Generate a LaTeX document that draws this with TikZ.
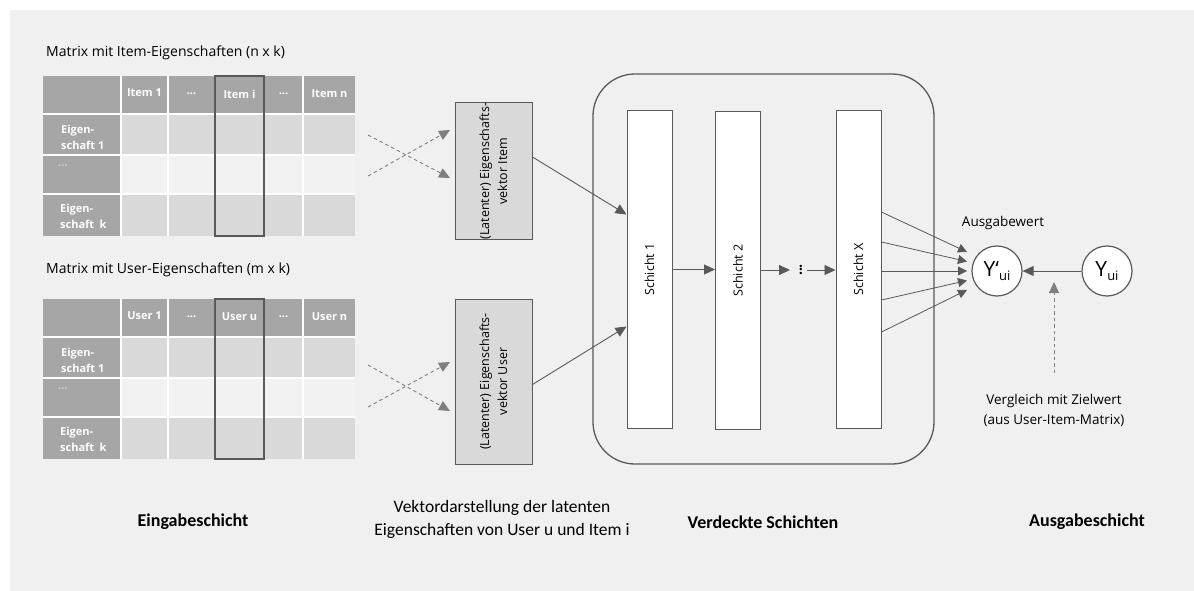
\documentclass[tikz,border=0pt]{standalone}
\usepackage{fontspec}
\setmainfont{Open Sans}
\newfontfamily\calibfont{Carlito}
\usetikzlibrary{arrows.meta,calc}

\definecolor{panel}{HTML}{F0F0F0}
\definecolor{hdr}{HTML}{A6A6A6}
\definecolor{cellA}{HTML}{D9D9D9}
\definecolor{cellB}{HTML}{F2F2F2}
\definecolor{ink}{HTML}{595959}
\definecolor{dashc}{HTML}{7F7F7F}
\definecolor{dimdots}{HTML}{D0D0D0}

% one feature matrix: header row, label column, three data rows
\newcommand\featuretable[4]{%
  \fill[white] (43,76) rectangle (355,236);
  \foreach \a/\b in {43/120,122/167,169/214,216/263,265/302,304/355}
    \fill[hdr] (\a,76) rectangle (\b,113);
  \foreach \a/\b in {115/154,156/193,195/236}
    \fill[hdr] (43,\a) rectangle (120,\b);
  \foreach \a/\b in {122/167,169/214,216/263,265/302,304/355}{
    \fill[cellA] (\a,115) rectangle (\b,154);
    \fill[cellB] (\a,156) rectangle (\b,193);
    \fill[cellA] (\a,195) rectangle (\b,236);}
  \node[hdrtext] (#1c1) at (144.5,93) {#2};
  \node[hdrtext] (#1c2) at (191.5,94) {...};
  \node[hdrtext] (#1ci) at (239.5,94) {#3};
  \node[hdrtext] (#1c4) at (283.5,94) {...};
  \node[hdrtext] (#1cn) at (329.5,94) {#4};
  \node[rowtext] (#1r1) at (61,137) {Eigen-\\schaft 1};
  \node[rowtext, text=dimdots] (#1r2) at (58,166) {...};
  \node[rowtext] (#1r3) at (60,216) {Eigen-\\schaft\enspace k};
  \draw[ink, line width=1.4pt] (215,76) rectangle (264,236);
}

\begin{document}
\begin{tikzpicture}[x=1pt,y=-1pt,
  titletext/.style={font=\fontsize{14}{16}\selectfont, inner sep=0pt, anchor=west},
  hdrtext/.style={font=\fontsize{11}{12}\selectfont\bfseries, text=white, inner sep=0pt},
  rowtext/.style={font=\fontsize{11}{16}\selectfont\bfseries, text=white, inner sep=0pt, anchor=west, align=left},
  vbox/.style={draw=ink, fill=cellA, line width=1pt, minimum width=77pt, inner sep=0pt},
  vtext/.style={rotate=90, font=\fontsize{12.5}{18}\selectfont, align=center, inner sep=0pt},
  layer/.style={draw=ink, fill=white, line width=1pt, minimum width=45pt, minimum height=317pt, inner sep=0pt},
  ltext/.style={rotate=90, font=\fontsize{12.5}{14}\selectfont, inner sep=0pt},
  circ/.style={draw=ink, fill=white, line width=1.2pt, circle, minimum size=50pt, inner sep=0pt},
  plain/.style={font=\fontsize{13.5}{20}\selectfont, align=center, inner sep=0pt},
  caption/.style={font=\calibfont\fontsize{17.5}{23}\selectfont, align=center, inner sep=0pt},
  bcaption/.style={font=\calibfont\bfseries\fontsize{18}{23}\selectfont, inner sep=0pt},
  arr/.style={draw=ink, line width=0.9pt, -{Triangle[length=11pt,width=10pt]}},
  arrs/.style={draw=ink, line width=0.8pt, -{Triangle[length=9pt,width=9pt]}},
  darr/.style={draw=dashc, line width=0.9pt, dash pattern=on 3.5pt off 3pt, -{Triangle[length=11pt,width=10pt]}}
]
\useasboundingbox (0,0) rectangle (1194,591);
\fill[panel] (10,10) rectangle (1194,591);

% input layer: the two feature matrices
\node[titletext] (ititle) at (46,53) {Matrix mit Item-Eigenschaften (n x k)};
\featuretable{it}{Item 1}{Item i}{Item n}
\node[titletext] (utitle) at (46,270) {Matrix mit User-Eigenschaften (m x k)};
\begin{scope}[shift={(0,223)}]
\featuretable{us}{User 1}{User u}{User n}
\end{scope}

% latent vectors
\node[vbox, minimum height=136pt] (vi) at (493.5,171) {};
\node[vtext] (vit) at (vi) {(Latenter) Eigenschafts-\\vektor Item};
\node[vbox, minimum height=165pt] (vu) at (493.5,381.5) {};
\node[vtext] (vut) at (vu) {(Latenter) Eigenschafts-\\vektor User};

% dashed crossings between matrix and vector
\coordinate (ia) at (368,135);
\coordinate (ib) at (368,176);
\coordinate (iat) at (450,178);
\coordinate (ibt) at (450,130);
\draw[darr] (ia) -- (iat);
\draw[darr] (ib) -- (ibt);
\coordinate (ua) at (368,365);
\coordinate (ub) at (368,407);
\coordinate (uat) at (450,411);
\coordinate (ubt) at (450,362);
\draw[darr] (ua) -- (uat);
\draw[darr] (ub) -- (ubt);

% hidden layers
\draw[ink, line width=1.3pt, rounded corners=42pt] (593,74) rectangle (934,464);
\node[layer] (s1) at (649.5,269.5) {};
\node[ltext] (s1t) at (s1) {Schicht 1};
\node[layer] (s2) at (738,270.5) {};
\node[ltext] (s2t) at (s2) {Schicht 2};
\node[layer] (sx) at (858.5,269.5) {};
\node[ltext] (sxt) at (sx) {Schicht X};
\node[rotate=90, font=\fontsize{14}{14}\selectfont\bfseries, inner sep=0pt] (dots) at (801,270) {...};
\coordinate (dotsin) at (790,270);
\coordinate (dotsout) at (807,270);

\draw[arr] ($(vi.east)+(0,-14)$) -- ($(s1.west)+(0,-55)$);
\draw[arr] ($(vu.east)+(0,3)$) -- ($(s1.west)+(0,57)$);
\draw[arr] (s1.east) -- (s1.east -| s2.west);
\draw[arr] (s2.east |- dotsin) -- (dotsin);
\draw[arr] (dotsout) -- (dotsout -| sx.west);

% output layer
\node[circ] (yp) at (997,271) {\fontsize{21}{21}\selectfont Y‘\raisebox{-0.35ex}{\fontsize{13}{13}\selectfont ui}};
\node[circ] (y) at (1107,271) {\fontsize{21}{21}\selectfont Y\raisebox{-0.35ex}{\fontsize{13}{13}\selectfont ui}};
\foreach \s/\t in {-57.5/-19,-27.5/-9.5,1.5/0,30.5/9.5,62.5/19}
  \draw[arrs] ($(sx.east)+(0,\s)$) -- ($(yp.center)+(-30,\t)$);
\draw[arr] (y.west) -- (yp.east);
\coordinate (cmp) at (1054,373);
\draw[darr] (cmp) -- ($(cmp |- yp)+(0,11)$);

\node[plain] (out) at (1003,223) {Ausgabewert};
\node[plain] (cmpt) at (1054,410) {Vergleich mit Zielwert\\(aus User-Item-Matrix)};

% captions
\node[bcaption] (c1) at (193,522) {Eingabeschicht};
\node[caption] (c2) at (502,519) {Vektordarstellung der latenten\\Eigenschaften von User u und Item i};
\node[bcaption] (c3) at (763,522) {Verdeckte Schichten};
\node[bcaption] (c4) at (1087,522) {Ausgabeschicht};
\end{tikzpicture}
\end{document}
